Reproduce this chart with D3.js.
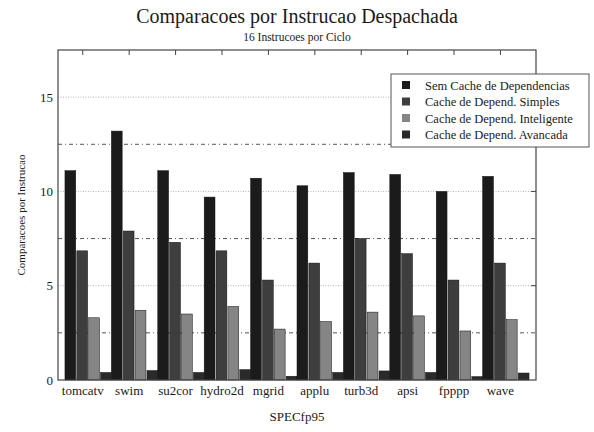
<html>
<head>
<script src="https://d3js.org/d3.v7.min.js"></script>
<style>
  body { margin: 0; background: #fff; }
  text { font-family: "Liberation Serif", "DejaVu Serif", serif; fill: #1a1a1a; }
</style>
</head>
<body>
<div id="chart"></div>
<script>
// data
var benchmarks = ["tomcatv", "swim", "su2cor", "hydro2d", "mgrid", "applu", "turb3d", "apsi", "fpppp", "wave"];
var seriesNames = ["Sem Cache de Dependencias", "Cache de Depend. Simples", "Cache de Depend. Inteligente", "Cache de Depend. Avancada"];
var semCache   = [11.1, 13.2, 11.1, 9.7, 10.7, 10.3, 11.0, 10.9, 10.0, 10.8];
var simples    = [6.85, 7.9, 7.3, 6.85, 5.3, 6.2, 7.5, 6.7, 5.3, 6.2];
var inteligente= [3.3, 3.7, 3.5, 3.9, 2.7, 3.1, 3.6, 3.4, 2.6, 3.2];
var avancada   = [0.4, 0.5, 0.4, 0.55, 0.2, 0.4, 0.48, 0.4, 0.18, 0.37];
var yTicks = [0, 5, 10, 15];
var yMinor = [2.5, 7.5, 12.5];
var colors = ["#1b1b1b", "#3e3e3e", "#858585", "#2a2a2a"];

var values = [semCache, simples, inteligente, avancada];

var W = 594, H = 432;
var pLeft = 58, pRight = 536, pTop = 50, pBottom = 380;

var svg = d3.select("#chart").append("svg")
    .attr("width", W).attr("height", H);

var x = d3.scaleBand().domain(benchmarks).range([pLeft, pRight])
    .paddingInner(0).paddingOuter(0.15);
var xs = d3.scaleBand().domain(d3.range(4)).range([0, x.bandwidth()])
    .paddingInner(0.09).paddingOuter(0);
var y = d3.scaleLinear().domain([0, 17.5]).range([pBottom, pTop]);

// tick position: middle of second bar of each group
function tickX(b) { return x(b) + xs.step() * 1.5; }

// gridlines
svg.append("g").selectAll("line").data(yTicks.slice(1)).enter().append("line")
    .attr("x1", pLeft).attr("x2", pRight)
    .attr("y1", function(d){ return y(d); }).attr("y2", function(d){ return y(d); })
    .attr("stroke", "#b5b5b5").attr("stroke-width", 1).attr("stroke-dasharray", "1,1.5");
svg.append("g").selectAll("line").data(yMinor).enter().append("line")
    .attr("x1", pLeft).attr("x2", pRight)
    .attr("y1", function(d){ return y(d); }).attr("y2", function(d){ return y(d); })
    .attr("stroke", "#555").attr("stroke-width", 1).attr("stroke-dasharray", "4,3,1,3");

// bars
var groups = svg.append("g").selectAll("g").data(benchmarks).enter().append("g")
    .attr("transform", function(d){ return "translate(" + x(d) + ",0)"; });
groups.selectAll("rect").data(function(d, i){ return values.map(function(v, s){ return {s: s, v: v[i]}; }); })
    .enter().append("rect")
    .attr("x", function(d){ return xs(d.s); })
    .attr("width", xs.bandwidth())
    .attr("y", function(d){ return y(d.v); })
    .attr("height", function(d){ return y(0) - y(d.v); })
    .attr("fill", function(d){ return colors[d.s]; })
    .attr("stroke", "#111").attr("stroke-width", 0.5);

// frame
svg.append("rect").attr("x", pLeft).attr("y", pTop)
    .attr("width", pRight - pLeft).attr("height", pBottom - pTop)
    .attr("fill", "none").attr("stroke", "#444").attr("stroke-width", 1.2);

// x ticks on top
svg.append("g").selectAll("line").data(benchmarks).enter().append("line")
    .attr("x1", tickX).attr("x2", tickX)
    .attr("y1", pTop).attr("y2", pTop + 5).attr("stroke", "#444");

// y ticks on the right side
svg.append("g").selectAll("line").data(yTicks.slice(1)).enter().append("line")
    .attr("x1", pRight - 5).attr("x2", pRight)
    .attr("y1", function(d){ return y(d); }).attr("y2", function(d){ return y(d); })
    .attr("stroke", "#444");

// axis labels
svg.append("g").selectAll("text").data(benchmarks).enter().append("text")
    .attr("x", tickX).attr("y", pBottom + 15)
    .attr("text-anchor", "middle").attr("font-size", 13)
    .text(function(d){ return d; });

svg.append("g").selectAll("text").data(yTicks).enter().append("text")
    .attr("x", pLeft - 5).attr("y", function(d){ return y(d) + 4.5; })
    .attr("text-anchor", "end").attr("font-size", 13)
    .text(function(d){ return d; });

svg.append("text").attr("x", (pLeft + pRight) / 2).attr("y", 421)
    .attr("text-anchor", "middle").attr("font-size", 13).text("SPECfp95");

svg.append("text").attr("transform", "translate(25," + ((pTop + pBottom) / 2) + ") rotate(-90)")
    .attr("text-anchor", "middle").attr("font-size", 11).text("Comparacoes por Instrucao");

// titles
svg.append("text").attr("x", 297).attr("y", 23)
    .attr("text-anchor", "middle").attr("font-size", 20)
    .text("Comparacoes por Instrucao Despachada");
svg.append("text").attr("x", 297).attr("y", 41)
    .attr("text-anchor", "middle").attr("font-size", 11.5)
    .text("16 Instrucoes por Ciclo");

// legend
var lg = svg.append("g").attr("transform", "translate(391,74)");
lg.append("rect").attr("width", 198).attr("height", 73)
    .attr("fill", "#fff").attr("stroke", "#555").attr("stroke-width", 1);
var rows = lg.selectAll("g").data(seriesNames).enter().append("g")
    .attr("transform", function(d, i){ return "translate(0," + (11 + i * 16.5) + ")"; });
rows.append("rect").attr("x", 11).attr("y", -4).attr("width", 8).attr("height", 8)
    .attr("fill", function(d, i){ return colors[i]; });
rows.append("text").attr("x", 34).attr("y", 4.5).attr("font-size", 12.5)
    .text(function(d){ return d; });
</script>
</body>
</html>
